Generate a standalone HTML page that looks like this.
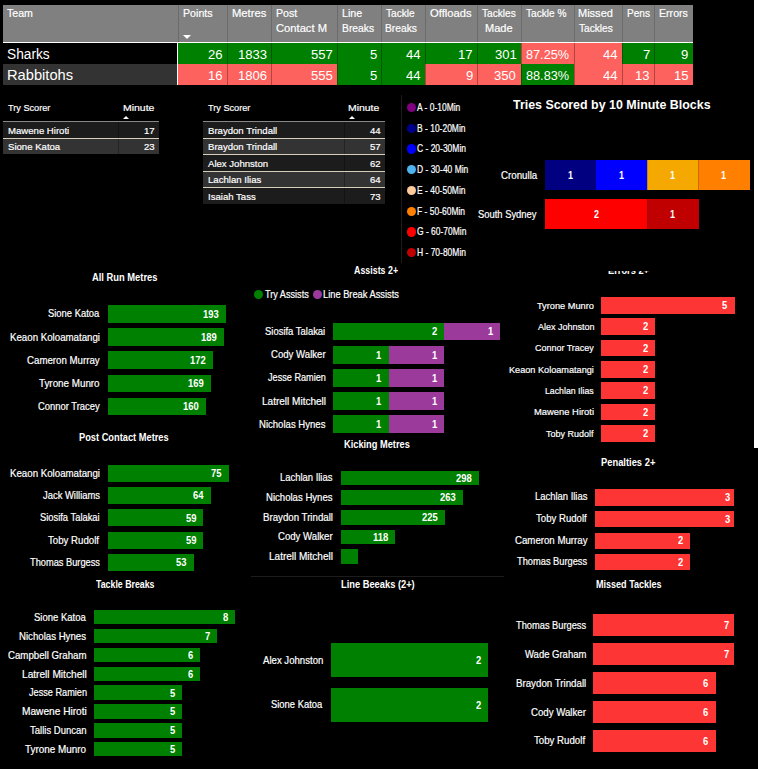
<!DOCTYPE html>
<html><head><meta charset="utf-8"><title>Match Stats</title>
<style>
html,body{margin:0;padding:0;background:#000;}
body{width:758px;height:769px;position:relative;overflow:hidden;font-family:"Liberation Sans", "DejaVu Sans", sans-serif;}
</style></head><body>
<div style="position:absolute;left:3.00px;top:5.00px;width:690.00px;height:37.00px;background:#808080;"></div>
<div style="position:absolute;left:3.00px;top:42.00px;width:690.00px;height:1.00px;background:#ffffff;"></div>
<div style="position:absolute;left:178.00px;top:5.00px;width:1.00px;height:37.00px;background:#6b6b6b;"></div>
<div style="position:absolute;left:227.00px;top:5.00px;width:1.00px;height:37.00px;background:#6b6b6b;"></div>
<div style="position:absolute;left:271.00px;top:5.00px;width:1.00px;height:37.00px;background:#6b6b6b;"></div>
<div style="position:absolute;left:337.00px;top:5.00px;width:1.00px;height:37.00px;background:#6b6b6b;"></div>
<div style="position:absolute;left:381.00px;top:5.00px;width:1.00px;height:37.00px;background:#6b6b6b;"></div>
<div style="position:absolute;left:425.00px;top:5.00px;width:1.00px;height:37.00px;background:#6b6b6b;"></div>
<div style="position:absolute;left:477.00px;top:5.00px;width:1.00px;height:37.00px;background:#6b6b6b;"></div>
<div style="position:absolute;left:521.00px;top:5.00px;width:1.00px;height:37.00px;background:#6b6b6b;"></div>
<div style="position:absolute;left:574.00px;top:5.00px;width:1.00px;height:37.00px;background:#6b6b6b;"></div>
<div style="position:absolute;left:622.00px;top:5.00px;width:1.00px;height:37.00px;background:#6b6b6b;"></div>
<div style="position:absolute;left:654.00px;top:5.00px;width:1.00px;height:37.00px;background:#6b6b6b;"></div>
<div style="position:absolute;left:6.97px;top:7px;font-size:11.48px;line-height:12px;-webkit-text-stroke:0.2px currentColor;color:#fff;white-space:nowrap;transform:scaleX(0.924);transform-origin:0 0;">Team</div>
<div style="position:absolute;left:182.72px;top:7px;font-size:11.48px;line-height:12px;-webkit-text-stroke:0.2px currentColor;color:#fff;white-space:nowrap;transform:scaleX(0.929);transform-origin:0 0;">Points</div>
<div style="position:absolute;left:231.68px;top:7px;font-size:11.48px;line-height:12px;-webkit-text-stroke:0.2px currentColor;color:#fff;white-space:nowrap;transform:scaleX(0.978);transform-origin:0 0;">Metres</div>
<div style="position:absolute;left:275.63px;top:7px;font-size:11.48px;line-height:12px;-webkit-text-stroke:0.2px currentColor;color:#fff;white-space:nowrap;transform:scaleX(0.925);transform-origin:0 0;">Post</div>
<div style="position:absolute;left:275.93px;top:22px;font-size:11.48px;line-height:12px;-webkit-text-stroke:0.2px currentColor;color:#fff;white-space:nowrap;transform:scaleX(0.976);transform-origin:0 0;">Contact M</div>
<div style="position:absolute;left:341.52px;top:7px;font-size:11.48px;line-height:12px;-webkit-text-stroke:0.2px currentColor;color:#fff;white-space:nowrap;transform:scaleX(0.933);transform-origin:0 0;">Line</div>
<div style="position:absolute;left:341.55px;top:22px;font-size:11.48px;line-height:12px;-webkit-text-stroke:0.2px currentColor;color:#fff;white-space:nowrap;transform:scaleX(0.899);transform-origin:0 0;">Breaks</div>
<div style="position:absolute;left:385.78px;top:7px;font-size:11.48px;line-height:12px;-webkit-text-stroke:0.2px currentColor;color:#fff;white-space:nowrap;transform:scaleX(0.884);transform-origin:0 0;">Tackle</div>
<div style="position:absolute;left:385.16px;top:22px;font-size:11.48px;line-height:12px;-webkit-text-stroke:0.2px currentColor;color:#fff;white-space:nowrap;transform:scaleX(0.896);transform-origin:0 0;">Breaks</div>
<div style="position:absolute;left:429.77px;top:7px;font-size:11.48px;line-height:12px;-webkit-text-stroke:0.2px currentColor;color:#fff;white-space:nowrap;transform:scaleX(0.978);transform-origin:0 0;">Offloads</div>
<div style="position:absolute;left:481.88px;top:7px;font-size:11.48px;line-height:12px;-webkit-text-stroke:0.2px currentColor;color:#fff;white-space:nowrap;transform:scaleX(0.883);transform-origin:0 0;">Tackles</div>
<div style="position:absolute;left:484.90px;top:22px;font-size:11.48px;line-height:12px;-webkit-text-stroke:0.2px currentColor;color:#fff;white-space:nowrap;transform:scaleX(0.961);transform-origin:0 0;">Made</div>
<div style="position:absolute;left:526.18px;top:7px;font-size:11.48px;line-height:12px;-webkit-text-stroke:0.2px currentColor;color:#fff;white-space:nowrap;transform:scaleX(0.881);transform-origin:0 0;">Tackle %</div>
<div style="position:absolute;left:577.90px;top:7px;font-size:11.48px;line-height:12px;-webkit-text-stroke:0.2px currentColor;color:#fff;white-space:nowrap;transform:scaleX(0.960);transform-origin:0 0;">Missed</div>
<div style="position:absolute;left:578.58px;top:22px;font-size:11.48px;line-height:12px;-webkit-text-stroke:0.2px currentColor;color:#fff;white-space:nowrap;transform:scaleX(0.885);transform-origin:0 0;">Tackles</div>
<div style="position:absolute;left:626.77px;top:7px;font-size:11.48px;line-height:12px;-webkit-text-stroke:0.2px currentColor;color:#fff;white-space:nowrap;transform:scaleX(0.879);transform-origin:0 0;">Pens</div>
<div style="position:absolute;left:658.53px;top:7px;font-size:11.48px;line-height:12px;-webkit-text-stroke:0.2px currentColor;color:#fff;white-space:nowrap;transform:scaleX(0.926);transform-origin:0 0;">Errors</div>
<div style="position:absolute;left:182.8px;top:35.2px;width:0;height:0;border-left:4px solid transparent;border-right:4px solid transparent;border-top:4px solid #fff;"></div>
<div style="position:absolute;left:3.00px;top:43.00px;width:174.00px;height:21.00px;background:#000;"></div>
<div style="position:absolute;left:178.00px;top:43.00px;width:49.00px;height:21.00px;background:#008000;"></div>
<div style="position:absolute;left:227.00px;top:43.00px;width:44.00px;height:21.00px;background:#008000;"></div>
<div style="position:absolute;left:271.00px;top:43.00px;width:66.00px;height:21.00px;background:#008000;"></div>
<div style="position:absolute;left:337.00px;top:43.00px;width:44.00px;height:21.00px;background:#008000;"></div>
<div style="position:absolute;left:381.00px;top:43.00px;width:44.00px;height:21.00px;background:#008000;"></div>
<div style="position:absolute;left:425.00px;top:43.00px;width:52.00px;height:21.00px;background:#008000;"></div>
<div style="position:absolute;left:477.00px;top:43.00px;width:44.00px;height:21.00px;background:#008000;"></div>
<div style="position:absolute;left:521.00px;top:43.00px;width:53.00px;height:21.00px;background:#fd625e;"></div>
<div style="position:absolute;left:574.00px;top:43.00px;width:48.00px;height:21.00px;background:#fd625e;"></div>
<div style="position:absolute;left:622.00px;top:43.00px;width:32.00px;height:21.00px;background:#008000;"></div>
<div style="position:absolute;left:654.00px;top:43.00px;width:39.00px;height:21.00px;background:#008000;"></div>
<div style="position:absolute;left:3.00px;top:64.00px;width:174.00px;height:21.00px;background:#333333;"></div>
<div style="position:absolute;left:178.00px;top:64.00px;width:49.00px;height:21.00px;background:#fd625e;"></div>
<div style="position:absolute;left:227.00px;top:64.00px;width:44.00px;height:21.00px;background:#fd625e;"></div>
<div style="position:absolute;left:271.00px;top:64.00px;width:66.00px;height:21.00px;background:#fd625e;"></div>
<div style="position:absolute;left:337.00px;top:64.00px;width:44.00px;height:21.00px;background:#008000;"></div>
<div style="position:absolute;left:381.00px;top:64.00px;width:44.00px;height:21.00px;background:#008000;"></div>
<div style="position:absolute;left:425.00px;top:64.00px;width:52.00px;height:21.00px;background:#fd625e;"></div>
<div style="position:absolute;left:477.00px;top:64.00px;width:44.00px;height:21.00px;background:#fd625e;"></div>
<div style="position:absolute;left:521.00px;top:64.00px;width:53.00px;height:21.00px;background:#008000;"></div>
<div style="position:absolute;left:574.00px;top:64.00px;width:48.00px;height:21.00px;background:#fd625e;"></div>
<div style="position:absolute;left:622.00px;top:64.00px;width:32.00px;height:21.00px;background:#fd625e;"></div>
<div style="position:absolute;left:654.00px;top:64.00px;width:39.00px;height:21.00px;background:#fd625e;"></div>
<div style="position:absolute;left:177.00px;top:43.00px;width:1.00px;height:42.00px;background:#ffffff;"></div>
<div style="position:absolute;left:227.00px;top:43.00px;width:1.00px;height:42.00px;background:rgba(0,0,0,0.3);"></div>
<div style="position:absolute;left:271.00px;top:43.00px;width:1.00px;height:42.00px;background:rgba(0,0,0,0.3);"></div>
<div style="position:absolute;left:337.00px;top:43.00px;width:1.00px;height:42.00px;background:rgba(0,0,0,0.3);"></div>
<div style="position:absolute;left:381.00px;top:43.00px;width:1.00px;height:42.00px;background:rgba(0,0,0,0.3);"></div>
<div style="position:absolute;left:425.00px;top:43.00px;width:1.00px;height:42.00px;background:rgba(0,0,0,0.3);"></div>
<div style="position:absolute;left:477.00px;top:43.00px;width:1.00px;height:42.00px;background:rgba(0,0,0,0.3);"></div>
<div style="position:absolute;left:521.00px;top:43.00px;width:1.00px;height:42.00px;background:rgba(0,0,0,0.3);"></div>
<div style="position:absolute;left:574.00px;top:43.00px;width:1.00px;height:42.00px;background:rgba(0,0,0,0.3);"></div>
<div style="position:absolute;left:622.00px;top:43.00px;width:1.00px;height:42.00px;background:rgba(0,0,0,0.3);"></div>
<div style="position:absolute;left:654.00px;top:43.00px;width:1.00px;height:42.00px;background:rgba(0,0,0,0.3);"></div>
<div style="position:absolute;left:6.97px;top:46px;font-size:14.83px;line-height:16px;color:#fff;white-space:nowrap;transform:scaleX(0.924);transform-origin:0 0;">Sharks</div>
<div style="position:absolute;left:6.70px;top:66px;font-size:15.12px;line-height:17px;color:#fff;white-space:nowrap;transform:scaleX(0.972);transform-origin:0 0;">Rabbitohs</div>
<div style="position:absolute;left:208.00px;top:47px;font-size:13.37px;line-height:15px;color:#fff;white-space:nowrap;transform:scaleX(0.980);transform-origin:0 0;">26</div>
<div style="position:absolute;left:237.73px;top:47px;font-size:13.37px;line-height:15px;color:#fff;white-space:nowrap;transform:scaleX(0.980);transform-origin:0 0;">1833</div>
<div style="position:absolute;left:310.80px;top:47px;font-size:13.37px;line-height:15px;color:#fff;white-space:nowrap;transform:scaleX(0.980);transform-origin:0 0;">557</div>
<div style="position:absolute;left:369.56px;top:47px;font-size:13.37px;line-height:15px;color:#fff;white-space:nowrap;transform:scaleX(0.980);transform-origin:0 0;">5</div>
<div style="position:absolute;left:405.81px;top:47px;font-size:13.37px;line-height:15px;color:#fff;white-space:nowrap;transform:scaleX(0.980);transform-origin:0 0;">44</div>
<div style="position:absolute;left:458.28px;top:47px;font-size:13.37px;line-height:15px;color:#fff;white-space:nowrap;transform:scaleX(0.980);transform-origin:0 0;">17</div>
<div style="position:absolute;left:494.58px;top:47px;font-size:13.37px;line-height:15px;color:#fff;white-space:nowrap;transform:scaleX(0.980);transform-origin:0 0;">301</div>
<div style="position:absolute;left:525.85px;top:47px;font-size:13.37px;line-height:15px;color:#fff;white-space:nowrap;transform:scaleX(0.950);transform-origin:0 0;">87.25%</div>
<div style="position:absolute;left:602.81px;top:47px;font-size:13.37px;line-height:15px;color:#fff;white-space:nowrap;transform:scaleX(0.980);transform-origin:0 0;">44</div>
<div style="position:absolute;left:642.67px;top:47px;font-size:13.37px;line-height:15px;color:#fff;white-space:nowrap;transform:scaleX(0.980);transform-origin:0 0;">7</div>
<div style="position:absolute;left:680.93px;top:47px;font-size:13.37px;line-height:15px;color:#fff;white-space:nowrap;transform:scaleX(0.980);transform-origin:0 0;">9</div>
<div style="position:absolute;left:208.00px;top:68px;font-size:13.37px;line-height:15px;color:#fff;white-space:nowrap;transform:scaleX(0.980);transform-origin:0 0;">16</div>
<div style="position:absolute;left:237.73px;top:68px;font-size:13.37px;line-height:15px;color:#fff;white-space:nowrap;transform:scaleX(0.980);transform-origin:0 0;">1806</div>
<div style="position:absolute;left:310.69px;top:68px;font-size:13.37px;line-height:15px;color:#fff;white-space:nowrap;transform:scaleX(0.980);transform-origin:0 0;">555</div>
<div style="position:absolute;left:369.56px;top:68px;font-size:13.37px;line-height:15px;color:#fff;white-space:nowrap;transform:scaleX(0.980);transform-origin:0 0;">5</div>
<div style="position:absolute;left:405.81px;top:68px;font-size:13.37px;line-height:15px;color:#fff;white-space:nowrap;transform:scaleX(0.980);transform-origin:0 0;">44</div>
<div style="position:absolute;left:465.53px;top:68px;font-size:13.37px;line-height:15px;color:#fff;white-space:nowrap;transform:scaleX(0.980);transform-origin:0 0;">9</div>
<div style="position:absolute;left:494.45px;top:68px;font-size:13.37px;line-height:15px;color:#fff;white-space:nowrap;transform:scaleX(0.980);transform-origin:0 0;">350</div>
<div style="position:absolute;left:525.85px;top:68px;font-size:13.37px;line-height:15px;color:#fff;white-space:nowrap;transform:scaleX(0.950);transform-origin:0 0;">88.83%</div>
<div style="position:absolute;left:602.81px;top:68px;font-size:13.37px;line-height:15px;color:#fff;white-space:nowrap;transform:scaleX(0.980);transform-origin:0 0;">44</div>
<div style="position:absolute;left:635.30px;top:68px;font-size:13.37px;line-height:15px;color:#fff;white-space:nowrap;transform:scaleX(0.980);transform-origin:0 0;">13</div>
<div style="position:absolute;left:673.58px;top:68px;font-size:13.37px;line-height:15px;color:#fff;white-space:nowrap;transform:scaleX(0.980);transform-origin:0 0;">15</div>
<div style="position:absolute;left:8.10px;top:102px;font-size:9.88px;line-height:11px;-webkit-text-stroke:0.2px currentColor;color:#fff;white-space:nowrap;transform:scaleX(0.926);transform-origin:0 0;">Try Scorer</div>
<div style="position:absolute;left:122.64px;top:102px;font-size:9.88px;line-height:11px;-webkit-text-stroke:0.2px currentColor;color:#fff;white-space:nowrap;transform:scaleX(1.059);transform-origin:0 0;">Minute</div>
<div style="position:absolute;left:123.1px;top:115.6px;width:0;height:0;border-left:3.7px solid transparent;border-right:3.7px solid transparent;border-bottom:3.9px solid #fff;"></div>
<div style="position:absolute;left:3.20px;top:121.00px;width:155.80px;height:1.00px;background:#888888;"></div>
<div style="position:absolute;left:3.20px;top:122.00px;width:155.80px;height:15.50px;background:#1c1c1c;"></div>
<div style="position:absolute;left:118.00px;top:122.00px;width:1.00px;height:15.50px;background:rgba(0,0,0,0.3);"></div>
<div style="position:absolute;left:7.51px;top:125px;font-size:9.88px;line-height:11px;-webkit-text-stroke:0.2px currentColor;color:#fff;white-space:nowrap;transform:scaleX(0.970);transform-origin:0 0;">Mawene Hiroti</div>
<div style="position:absolute;left:144.02px;top:125px;font-size:9.88px;line-height:11px;-webkit-text-stroke:0.2px currentColor;color:#fff;white-space:nowrap;transform:scaleX(0.970);transform-origin:0 0;">17</div>
<div style="position:absolute;left:3.20px;top:137.50px;width:155.80px;height:1.00px;background:#d6cdbb;"></div>
<div style="position:absolute;left:3.20px;top:138.50px;width:155.80px;height:15.50px;background:#333333;"></div>
<div style="position:absolute;left:118.00px;top:138.50px;width:1.00px;height:15.50px;background:rgba(0,0,0,0.3);"></div>
<div style="position:absolute;left:7.86px;top:141px;font-size:9.88px;line-height:11px;-webkit-text-stroke:0.2px currentColor;color:#fff;white-space:nowrap;transform:scaleX(0.970);transform-origin:0 0;">Sione Katoa</div>
<div style="position:absolute;left:143.96px;top:141px;font-size:9.88px;line-height:11px;-webkit-text-stroke:0.2px currentColor;color:#fff;white-space:nowrap;transform:scaleX(0.970);transform-origin:0 0;">23</div>
<div style="position:absolute;left:208.20px;top:102px;font-size:9.88px;line-height:11px;-webkit-text-stroke:0.2px currentColor;color:#fff;white-space:nowrap;transform:scaleX(0.926);transform-origin:0 0;">Try Scorer</div>
<div style="position:absolute;left:348.04px;top:102px;font-size:9.88px;line-height:11px;-webkit-text-stroke:0.2px currentColor;color:#fff;white-space:nowrap;transform:scaleX(1.056);transform-origin:0 0;">Minute</div>
<div style="position:absolute;left:348.5px;top:115.6px;width:0;height:0;border-left:3.7px solid transparent;border-right:3.7px solid transparent;border-bottom:3.9px solid #fff;"></div>
<div style="position:absolute;left:203.30px;top:121.00px;width:181.60px;height:1.00px;background:#888888;"></div>
<div style="position:absolute;left:203.30px;top:122.00px;width:181.60px;height:15.50px;background:#1c1c1c;"></div>
<div style="position:absolute;left:344.30px;top:122.00px;width:1.00px;height:15.50px;background:rgba(0,0,0,0.3);"></div>
<div style="position:absolute;left:207.61px;top:125px;font-size:9.88px;line-height:11px;-webkit-text-stroke:0.2px currentColor;color:#fff;white-space:nowrap;transform:scaleX(0.970);transform-origin:0 0;">Braydon Trindall</div>
<div style="position:absolute;left:369.72px;top:125px;font-size:9.88px;line-height:11px;-webkit-text-stroke:0.2px currentColor;color:#fff;white-space:nowrap;transform:scaleX(0.970);transform-origin:0 0;">44</div>
<div style="position:absolute;left:203.30px;top:137.50px;width:181.60px;height:1.00px;background:#d6cdbb;"></div>
<div style="position:absolute;left:203.30px;top:138.50px;width:181.60px;height:15.50px;background:#333333;"></div>
<div style="position:absolute;left:344.30px;top:138.50px;width:1.00px;height:15.50px;background:rgba(0,0,0,0.3);"></div>
<div style="position:absolute;left:207.61px;top:141px;font-size:9.88px;line-height:11px;-webkit-text-stroke:0.2px currentColor;color:#fff;white-space:nowrap;transform:scaleX(0.970);transform-origin:0 0;">Braydon Trindall</div>
<div style="position:absolute;left:369.92px;top:141px;font-size:9.88px;line-height:11px;-webkit-text-stroke:0.2px currentColor;color:#fff;white-space:nowrap;transform:scaleX(0.970);transform-origin:0 0;">57</div>
<div style="position:absolute;left:203.30px;top:154.00px;width:181.60px;height:1.00px;background:#d6cdbb;"></div>
<div style="position:absolute;left:203.30px;top:155.00px;width:181.60px;height:15.50px;background:#1c1c1c;"></div>
<div style="position:absolute;left:344.30px;top:155.00px;width:1.00px;height:15.50px;background:rgba(0,0,0,0.3);"></div>
<div style="position:absolute;left:208.38px;top:158px;font-size:9.88px;line-height:11px;-webkit-text-stroke:0.2px currentColor;color:#fff;white-space:nowrap;transform:scaleX(0.970);transform-origin:0 0;">Alex Johnston</div>
<div style="position:absolute;left:369.92px;top:158px;font-size:9.88px;line-height:11px;-webkit-text-stroke:0.2px currentColor;color:#fff;white-space:nowrap;transform:scaleX(0.970);transform-origin:0 0;">62</div>
<div style="position:absolute;left:203.30px;top:170.50px;width:181.60px;height:1.00px;background:#d6cdbb;"></div>
<div style="position:absolute;left:203.30px;top:171.50px;width:181.60px;height:15.50px;background:#333333;"></div>
<div style="position:absolute;left:344.30px;top:171.50px;width:1.00px;height:15.50px;background:rgba(0,0,0,0.3);"></div>
<div style="position:absolute;left:207.61px;top:174px;font-size:9.88px;line-height:11px;-webkit-text-stroke:0.2px currentColor;color:#fff;white-space:nowrap;transform:scaleX(0.970);transform-origin:0 0;">Lachlan Ilias</div>
<div style="position:absolute;left:369.72px;top:174px;font-size:9.88px;line-height:11px;-webkit-text-stroke:0.2px currentColor;color:#fff;white-space:nowrap;transform:scaleX(0.970);transform-origin:0 0;">64</div>
<div style="position:absolute;left:203.30px;top:187.00px;width:181.60px;height:1.00px;background:#d6cdbb;"></div>
<div style="position:absolute;left:203.30px;top:188.00px;width:181.60px;height:15.50px;background:#1c1c1c;"></div>
<div style="position:absolute;left:344.30px;top:188.00px;width:1.00px;height:15.50px;background:rgba(0,0,0,0.3);"></div>
<div style="position:absolute;left:207.52px;top:191px;font-size:9.88px;line-height:11px;-webkit-text-stroke:0.2px currentColor;color:#fff;white-space:nowrap;transform:scaleX(0.970);transform-origin:0 0;">Isaiah Tass</div>
<div style="position:absolute;left:369.86px;top:191px;font-size:9.88px;line-height:11px;-webkit-text-stroke:0.2px currentColor;color:#fff;white-space:nowrap;transform:scaleX(0.970);transform-origin:0 0;">73</div>
<div style="position:absolute;left:401.00px;top:95.00px;width:1.00px;height:168.00px;background:#1c1c1c;"></div>
<div style="position:absolute;left:406.95px;top:102.95px;width:9.30px;height:9.30px;border-radius:50%;background:#800080"></div>
<div style="position:absolute;left:417.48px;top:102px;font-size:10.03px;line-height:11px;-webkit-text-stroke:0.2px currentColor;color:#fff;white-space:nowrap;transform:scaleX(0.846);transform-origin:0 0;">A - 0-10Min</div>
<div style="position:absolute;left:406.95px;top:123.67px;width:9.30px;height:9.30px;border-radius:50%;background:#00008b"></div>
<div style="position:absolute;left:416.80px;top:123px;font-size:10.03px;line-height:11px;-webkit-text-stroke:0.2px currentColor;color:#fff;white-space:nowrap;transform:scaleX(0.846);transform-origin:0 0;">B - 10-20Min</div>
<div style="position:absolute;left:406.95px;top:144.39px;width:9.30px;height:9.30px;border-radius:50%;background:#0000ff"></div>
<div style="position:absolute;left:417.07px;top:143px;font-size:10.03px;line-height:11px;-webkit-text-stroke:0.2px currentColor;color:#fff;white-space:nowrap;transform:scaleX(0.846);transform-origin:0 0;">C - 20-30Min</div>
<div style="position:absolute;left:406.95px;top:165.11px;width:9.30px;height:9.30px;border-radius:50%;background:#4fb3f0"></div>
<div style="position:absolute;left:416.80px;top:164px;font-size:10.03px;line-height:11px;-webkit-text-stroke:0.2px currentColor;color:#fff;white-space:nowrap;transform:scaleX(0.846);transform-origin:0 0;">D - 30-40 Min</div>
<div style="position:absolute;left:406.95px;top:185.83px;width:9.30px;height:9.30px;border-radius:50%;background:#ffcc99"></div>
<div style="position:absolute;left:416.80px;top:185px;font-size:10.03px;line-height:11px;-webkit-text-stroke:0.2px currentColor;color:#fff;white-space:nowrap;transform:scaleX(0.846);transform-origin:0 0;">E - 40-50Min</div>
<div style="position:absolute;left:406.95px;top:206.55px;width:9.30px;height:9.30px;border-radius:50%;background:#ff8000"></div>
<div style="position:absolute;left:416.80px;top:206px;font-size:10.03px;line-height:11px;-webkit-text-stroke:0.2px currentColor;color:#fff;white-space:nowrap;transform:scaleX(0.846);transform-origin:0 0;">F - 50-60Min</div>
<div style="position:absolute;left:406.95px;top:227.27px;width:9.30px;height:9.30px;border-radius:50%;background:#ff0000"></div>
<div style="position:absolute;left:417.08px;top:226px;font-size:10.03px;line-height:11px;-webkit-text-stroke:0.2px currentColor;color:#fff;white-space:nowrap;transform:scaleX(0.846);transform-origin:0 0;">G - 60-70Min</div>
<div style="position:absolute;left:406.95px;top:247.99px;width:9.30px;height:9.30px;border-radius:50%;background:#c00000"></div>
<div style="position:absolute;left:416.80px;top:247px;font-size:10.03px;line-height:11px;-webkit-text-stroke:0.2px currentColor;color:#fff;white-space:nowrap;transform:scaleX(0.846);transform-origin:0 0;">H - 70-80Min</div>
<div style="position:absolute;left:512.66px;top:98px;font-size:12.06px;line-height:14px;font-weight:bold;color:#fff;white-space:nowrap;transform:scaleX(1.032);transform-origin:0 0;">Tries Scored by 10 Minute Blocks</div>
<div style="position:absolute;left:500.60px;top:170px;font-size:10.32px;line-height:11px;-webkit-text-stroke:0.2px currentColor;color:#fff;white-space:nowrap;transform:scaleX(0.944);transform-origin:0 0;">Cronulla</div>
<div style="position:absolute;left:477.97px;top:209px;font-size:10.32px;line-height:11px;-webkit-text-stroke:0.2px currentColor;color:#fff;white-space:nowrap;transform:scaleX(0.911);transform-origin:0 0;">South Sydney</div>
<div style="position:absolute;left:544.90px;top:159.70px;width:51.00px;height:30.20px;background:#000080;"></div>
<div style="position:absolute;left:595.90px;top:159.70px;width:51.20px;height:30.20px;background:#0000ff;"></div>
<div style="position:absolute;left:647.10px;top:159.70px;width:51.10px;height:30.20px;background:#f5a800;"></div>
<div style="position:absolute;left:698.20px;top:159.70px;width:51.50px;height:30.20px;background:#ff8000;"></div>
<div style="position:absolute;left:646.60px;top:159.70px;width:1.00px;height:30.20px;background:rgba(0,0,0,0.18);"></div>
<div style="position:absolute;left:697.70px;top:159.70px;width:1.00px;height:30.20px;background:rgba(0,0,0,0.18);"></div>
<div style="position:absolute;left:567.73px;top:170px;font-size:10.03px;line-height:11px;font-weight:bold;color:#fff;white-space:nowrap;transform:scaleX(0.900);transform-origin:0 0;">1</div>
<div style="position:absolute;left:618.83px;top:170px;font-size:10.03px;line-height:11px;font-weight:bold;color:#fff;white-space:nowrap;transform:scaleX(0.900);transform-origin:0 0;">1</div>
<div style="position:absolute;left:669.98px;top:170px;font-size:10.03px;line-height:11px;font-weight:bold;color:#fff;white-space:nowrap;transform:scaleX(0.900);transform-origin:0 0;">1</div>
<div style="position:absolute;left:721.28px;top:170px;font-size:10.03px;line-height:11px;font-weight:bold;color:#fff;white-space:nowrap;transform:scaleX(0.900);transform-origin:0 0;">1</div>
<div style="position:absolute;left:544.90px;top:199.20px;width:102.20px;height:30.20px;background:#ff0000;"></div>
<div style="position:absolute;left:647.10px;top:199.20px;width:51.50px;height:30.20px;background:#c00000;"></div>
<div style="position:absolute;left:646.60px;top:199.20px;width:1.00px;height:30.20px;background:rgba(0,0,0,0.15);"></div>
<div style="position:absolute;left:593.51px;top:209px;font-size:10.03px;line-height:11px;font-weight:bold;color:#fff;white-space:nowrap;transform:scaleX(0.900);transform-origin:0 0;">2</div>
<div style="position:absolute;left:670.18px;top:209px;font-size:10.03px;line-height:11px;font-weight:bold;color:#fff;white-space:nowrap;transform:scaleX(0.900);transform-origin:0 0;">1</div>
<div style="position:absolute;left:91.97px;top:272px;font-size:10.03px;line-height:11px;font-weight:bold;color:#fff;white-space:nowrap;transform:scaleX(0.933);transform-origin:0 0;">All Run Metres</div>
<div style="position:absolute;left:107.80px;top:305.00px;width:118.20px;height:17.80px;background:#008000;"></div>
<div style="position:absolute;left:48.27px;top:308px;font-size:10.32px;line-height:11px;-webkit-text-stroke:0.2px currentColor;color:#fff;white-space:nowrap;transform:scaleX(0.911);transform-origin:0 0;">Sione Katoa</div>
<div style="position:absolute;left:203.31px;top:309px;font-size:10.03px;line-height:11px;font-weight:bold;color:#fff;white-space:nowrap;transform:scaleX(0.940);transform-origin:0 0;">193</div>
<div style="position:absolute;left:107.80px;top:328.30px;width:115.80px;height:17.50px;background:#008000;"></div>
<div style="position:absolute;left:10.10px;top:332px;font-size:10.32px;line-height:11px;-webkit-text-stroke:0.2px currentColor;color:#fff;white-space:nowrap;transform:scaleX(0.940);transform-origin:0 0;">Keaon Koloamatangi</div>
<div style="position:absolute;left:200.92px;top:332px;font-size:10.03px;line-height:11px;font-weight:bold;color:#fff;white-space:nowrap;transform:scaleX(0.940);transform-origin:0 0;">189</div>
<div style="position:absolute;left:107.80px;top:351.40px;width:105.20px;height:17.40px;background:#008000;"></div>
<div style="position:absolute;left:26.81px;top:355px;font-size:10.32px;line-height:11px;-webkit-text-stroke:0.2px currentColor;color:#fff;white-space:nowrap;transform:scaleX(0.939);transform-origin:0 0;">Cameron Murray</div>
<div style="position:absolute;left:190.35px;top:355px;font-size:10.03px;line-height:11px;font-weight:bold;color:#fff;white-space:nowrap;transform:scaleX(0.940);transform-origin:0 0;">172</div>
<div style="position:absolute;left:107.80px;top:374.80px;width:103.20px;height:17.10px;background:#008000;"></div>
<div style="position:absolute;left:39.28px;top:378px;font-size:10.32px;line-height:11px;-webkit-text-stroke:0.2px currentColor;color:#fff;white-space:nowrap;transform:scaleX(0.952);transform-origin:0 0;">Tyrone Munro</div>
<div style="position:absolute;left:188.32px;top:378px;font-size:10.03px;line-height:11px;font-weight:bold;color:#fff;white-space:nowrap;transform:scaleX(0.940);transform-origin:0 0;">169</div>
<div style="position:absolute;left:107.80px;top:397.90px;width:98.00px;height:17.10px;background:#008000;"></div>
<div style="position:absolute;left:37.72px;top:401px;font-size:10.32px;line-height:11px;-webkit-text-stroke:0.2px currentColor;color:#fff;white-space:nowrap;transform:scaleX(0.913);transform-origin:0 0;">Connor Tracey</div>
<div style="position:absolute;left:183.16px;top:401px;font-size:10.03px;line-height:11px;font-weight:bold;color:#fff;white-space:nowrap;transform:scaleX(0.940);transform-origin:0 0;">160</div>
<div style="position:absolute;left:79.48px;top:432px;font-size:10.03px;line-height:11px;font-weight:bold;color:#fff;white-space:nowrap;transform:scaleX(0.926);transform-origin:0 0;">Post Contact Metres</div>
<div style="position:absolute;left:107.80px;top:464.50px;width:121.40px;height:17.20px;background:#008000;"></div>
<div style="position:absolute;left:10.10px;top:468px;font-size:10.32px;line-height:11px;-webkit-text-stroke:0.2px currentColor;color:#fff;white-space:nowrap;transform:scaleX(0.940);transform-origin:0 0;">Keaon Koloamatangi</div>
<div style="position:absolute;left:211.38px;top:468px;font-size:10.03px;line-height:11px;font-weight:bold;color:#fff;white-space:nowrap;transform:scaleX(0.940);transform-origin:0 0;">75</div>
<div style="position:absolute;left:107.80px;top:487.30px;width:103.60px;height:16.50px;background:#008000;"></div>
<div style="position:absolute;left:42.75px;top:490px;font-size:10.32px;line-height:11px;-webkit-text-stroke:0.2px currentColor;color:#fff;white-space:nowrap;transform:scaleX(0.913);transform-origin:0 0;">Jack Williams</div>
<div style="position:absolute;left:193.36px;top:490px;font-size:10.03px;line-height:11px;font-weight:bold;color:#fff;white-space:nowrap;transform:scaleX(0.940);transform-origin:0 0;">64</div>
<div style="position:absolute;left:107.80px;top:509.40px;width:95.70px;height:16.80px;background:#008000;"></div>
<div style="position:absolute;left:40.47px;top:512px;font-size:10.32px;line-height:11px;-webkit-text-stroke:0.2px currentColor;color:#fff;white-space:nowrap;transform:scaleX(0.907);transform-origin:0 0;">Siosifa Talakai</div>
<div style="position:absolute;left:185.77px;top:513px;font-size:10.03px;line-height:11px;font-weight:bold;color:#fff;white-space:nowrap;transform:scaleX(0.940);transform-origin:0 0;">59</div>
<div style="position:absolute;left:107.80px;top:531.80px;width:95.70px;height:16.80px;background:#008000;"></div>
<div style="position:absolute;left:48.49px;top:535px;font-size:10.32px;line-height:11px;-webkit-text-stroke:0.2px currentColor;color:#fff;white-space:nowrap;transform:scaleX(0.936);transform-origin:0 0;">Toby Rudolf</div>
<div style="position:absolute;left:185.77px;top:535px;font-size:10.03px;line-height:11px;font-weight:bold;color:#fff;white-space:nowrap;transform:scaleX(0.940);transform-origin:0 0;">59</div>
<div style="position:absolute;left:107.80px;top:553.90px;width:85.80px;height:16.80px;background:#008000;"></div>
<div style="position:absolute;left:29.80px;top:557px;font-size:10.32px;line-height:11px;-webkit-text-stroke:0.2px currentColor;color:#fff;white-space:nowrap;transform:scaleX(0.898);transform-origin:0 0;">Thomas Burgess</div>
<div style="position:absolute;left:175.86px;top:557px;font-size:10.03px;line-height:11px;font-weight:bold;color:#fff;white-space:nowrap;transform:scaleX(0.940);transform-origin:0 0;">53</div>
<div style="position:absolute;left:95.50px;top:579px;font-size:10.03px;line-height:11px;font-weight:bold;color:#fff;white-space:nowrap;transform:scaleX(0.878);transform-origin:0 0;">Tackle Breaks</div>
<div style="position:absolute;left:94.00px;top:610.20px;width:140.80px;height:14.20px;background:#008000;"></div>
<div style="position:absolute;left:34.26px;top:612px;font-size:10.32px;line-height:11px;-webkit-text-stroke:0.2px currentColor;color:#fff;white-space:nowrap;transform:scaleX(0.922);transform-origin:0 0;">Sione Katoa</div>
<div style="position:absolute;left:222.55px;top:612px;font-size:10.03px;line-height:11px;font-weight:bold;color:#fff;white-space:nowrap;transform:scaleX(0.940);transform-origin:0 0;">8</div>
<div style="position:absolute;left:94.00px;top:629.40px;width:123.30px;height:13.80px;background:#008000;"></div>
<div style="position:absolute;left:19.41px;top:631px;font-size:10.32px;line-height:11px;-webkit-text-stroke:0.2px currentColor;color:#fff;white-space:nowrap;transform:scaleX(0.935);transform-origin:0 0;">Nicholas Hynes</div>
<div style="position:absolute;left:205.17px;top:631px;font-size:10.03px;line-height:11px;font-weight:bold;color:#fff;white-space:nowrap;transform:scaleX(0.940);transform-origin:0 0;">7</div>
<div style="position:absolute;left:94.00px;top:648.20px;width:105.90px;height:14.10px;background:#008000;"></div>
<div style="position:absolute;left:8.21px;top:650px;font-size:10.32px;line-height:11px;-webkit-text-stroke:0.2px currentColor;color:#fff;white-space:nowrap;transform:scaleX(0.938);transform-origin:0 0;">Campbell Graham</div>
<div style="position:absolute;left:187.70px;top:650px;font-size:10.03px;line-height:11px;font-weight:bold;color:#fff;white-space:nowrap;transform:scaleX(0.940);transform-origin:0 0;">6</div>
<div style="position:absolute;left:94.00px;top:667.00px;width:105.90px;height:14.10px;background:#008000;"></div>
<div style="position:absolute;left:21.97px;top:669px;font-size:10.32px;line-height:11px;-webkit-text-stroke:0.2px currentColor;color:#fff;white-space:nowrap;transform:scaleX(0.983);transform-origin:0 0;">Latrell Mitchell</div>
<div style="position:absolute;left:187.70px;top:669px;font-size:10.03px;line-height:11px;font-weight:bold;color:#fff;white-space:nowrap;transform:scaleX(0.940);transform-origin:0 0;">6</div>
<div style="position:absolute;left:94.00px;top:685.40px;width:88.00px;height:14.60px;background:#008000;"></div>
<div style="position:absolute;left:28.65px;top:687px;font-size:10.32px;line-height:11px;-webkit-text-stroke:0.2px currentColor;color:#fff;white-space:nowrap;transform:scaleX(0.888);transform-origin:0 0;">Jesse Ramien</div>
<div style="position:absolute;left:169.72px;top:688px;font-size:10.03px;line-height:11px;font-weight:bold;color:#fff;white-space:nowrap;transform:scaleX(0.940);transform-origin:0 0;">5</div>
<div style="position:absolute;left:94.00px;top:704.20px;width:88.00px;height:14.50px;background:#008000;"></div>
<div style="position:absolute;left:21.97px;top:706px;font-size:10.32px;line-height:11px;-webkit-text-stroke:0.2px currentColor;color:#fff;white-space:nowrap;transform:scaleX(0.983);transform-origin:0 0;">Mawene Hiroti</div>
<div style="position:absolute;left:169.72px;top:706px;font-size:10.03px;line-height:11px;font-weight:bold;color:#fff;white-space:nowrap;transform:scaleX(0.940);transform-origin:0 0;">5</div>
<div style="position:absolute;left:94.00px;top:723.00px;width:88.00px;height:14.50px;background:#008000;"></div>
<div style="position:absolute;left:30.09px;top:725px;font-size:10.32px;line-height:11px;-webkit-text-stroke:0.2px currentColor;color:#fff;white-space:nowrap;transform:scaleX(0.923);transform-origin:0 0;">Tallis Duncan</div>
<div style="position:absolute;left:169.72px;top:725px;font-size:10.03px;line-height:11px;font-weight:bold;color:#fff;white-space:nowrap;transform:scaleX(0.940);transform-origin:0 0;">5</div>
<div style="position:absolute;left:94.00px;top:741.80px;width:88.00px;height:14.50px;background:#008000;"></div>
<div style="position:absolute;left:25.38px;top:744px;font-size:10.32px;line-height:11px;-webkit-text-stroke:0.2px currentColor;color:#fff;white-space:nowrap;transform:scaleX(0.960);transform-origin:0 0;">Tyrone Munro</div>
<div style="position:absolute;left:169.72px;top:744px;font-size:10.03px;line-height:11px;font-weight:bold;color:#fff;white-space:nowrap;transform:scaleX(0.940);transform-origin:0 0;">5</div>
<div style="position:absolute;left:354.38px;top:265px;font-size:10.03px;line-height:11px;font-weight:bold;color:#fff;white-space:nowrap;transform:scaleX(0.885);transform-origin:0 0;">Assists 2+</div>
<div style="position:absolute;left:253.90px;top:290.10px;width:9.20px;height:9.20px;border-radius:50%;background:#008000"></div>
<div style="position:absolute;left:264.60px;top:289px;font-size:10.32px;line-height:11px;-webkit-text-stroke:0.2px currentColor;color:#fff;white-space:nowrap;transform:scaleX(0.884);transform-origin:0 0;">Try Assists</div>
<div style="position:absolute;left:312.60px;top:290.10px;width:9.20px;height:9.20px;border-radius:50%;background:#9c3a9c"></div>
<div style="position:absolute;left:323.14px;top:289px;font-size:10.32px;line-height:11px;-webkit-text-stroke:0.2px currentColor;color:#fff;white-space:nowrap;transform:scaleX(0.901);transform-origin:0 0;">Line Break Assists</div>
<div style="position:absolute;left:333.00px;top:322.80px;width:111.20px;height:17.50px;background:#008000;"></div>
<div style="position:absolute;left:444.20px;top:322.80px;width:55.60px;height:17.50px;background:#9c3a9c;"></div>
<div style="position:absolute;left:265.47px;top:326px;font-size:10.32px;line-height:11px;-webkit-text-stroke:0.2px currentColor;color:#fff;white-space:nowrap;transform:scaleX(0.916);transform-origin:0 0;">Siosifa Talakai</div>
<div style="position:absolute;left:432.14px;top:326px;font-size:10.03px;line-height:11px;font-weight:bold;color:#fff;white-space:nowrap;transform:scaleX(0.940);transform-origin:0 0;">2</div>
<div style="position:absolute;left:487.62px;top:326px;font-size:10.03px;line-height:11px;font-weight:bold;color:#fff;white-space:nowrap;transform:scaleX(0.940);transform-origin:0 0;">1</div>
<div style="position:absolute;left:333.00px;top:345.80px;width:55.60px;height:17.80px;background:#008000;"></div>
<div style="position:absolute;left:388.60px;top:345.80px;width:55.60px;height:17.80px;background:#9c3a9c;"></div>
<div style="position:absolute;left:270.61px;top:349px;font-size:10.32px;line-height:11px;-webkit-text-stroke:0.2px currentColor;color:#fff;white-space:nowrap;transform:scaleX(0.931);transform-origin:0 0;">Cody Walker</div>
<div style="position:absolute;left:376.42px;top:350px;font-size:10.03px;line-height:11px;font-weight:bold;color:#fff;white-space:nowrap;transform:scaleX(0.940);transform-origin:0 0;">1</div>
<div style="position:absolute;left:432.02px;top:350px;font-size:10.03px;line-height:11px;font-weight:bold;color:#fff;white-space:nowrap;transform:scaleX(0.940);transform-origin:0 0;">1</div>
<div style="position:absolute;left:333.00px;top:369.10px;width:55.60px;height:17.50px;background:#008000;"></div>
<div style="position:absolute;left:388.60px;top:369.10px;width:55.60px;height:17.50px;background:#9c3a9c;"></div>
<div style="position:absolute;left:267.75px;top:372px;font-size:10.32px;line-height:11px;-webkit-text-stroke:0.2px currentColor;color:#fff;white-space:nowrap;transform:scaleX(0.886);transform-origin:0 0;">Jesse Ramien</div>
<div style="position:absolute;left:376.42px;top:373px;font-size:10.03px;line-height:11px;font-weight:bold;color:#fff;white-space:nowrap;transform:scaleX(0.940);transform-origin:0 0;">1</div>
<div style="position:absolute;left:432.02px;top:373px;font-size:10.03px;line-height:11px;font-weight:bold;color:#fff;white-space:nowrap;transform:scaleX(0.940);transform-origin:0 0;">1</div>
<div style="position:absolute;left:333.00px;top:392.40px;width:55.60px;height:17.50px;background:#008000;"></div>
<div style="position:absolute;left:388.60px;top:392.40px;width:55.60px;height:17.50px;background:#9c3a9c;"></div>
<div style="position:absolute;left:261.68px;top:396px;font-size:10.32px;line-height:11px;-webkit-text-stroke:0.2px currentColor;color:#fff;white-space:nowrap;transform:scaleX(0.972);transform-origin:0 0;">Latrell Mitchell</div>
<div style="position:absolute;left:376.42px;top:396px;font-size:10.03px;line-height:11px;font-weight:bold;color:#fff;white-space:nowrap;transform:scaleX(0.940);transform-origin:0 0;">1</div>
<div style="position:absolute;left:432.02px;top:396px;font-size:10.03px;line-height:11px;font-weight:bold;color:#fff;white-space:nowrap;transform:scaleX(0.940);transform-origin:0 0;">1</div>
<div style="position:absolute;left:333.00px;top:415.40px;width:55.60px;height:17.50px;background:#008000;"></div>
<div style="position:absolute;left:388.60px;top:415.40px;width:55.60px;height:17.50px;background:#9c3a9c;"></div>
<div style="position:absolute;left:259.02px;top:419px;font-size:10.32px;line-height:11px;-webkit-text-stroke:0.2px currentColor;color:#fff;white-space:nowrap;transform:scaleX(0.927);transform-origin:0 0;">Nicholas Hynes</div>
<div style="position:absolute;left:376.42px;top:419px;font-size:10.03px;line-height:11px;font-weight:bold;color:#fff;white-space:nowrap;transform:scaleX(0.940);transform-origin:0 0;">1</div>
<div style="position:absolute;left:432.02px;top:419px;font-size:10.03px;line-height:11px;font-weight:bold;color:#fff;white-space:nowrap;transform:scaleX(0.940);transform-origin:0 0;">1</div>
<div style="position:absolute;left:344.38px;top:439px;font-size:10.03px;line-height:11px;font-weight:bold;color:#fff;white-space:nowrap;transform:scaleX(0.924);transform-origin:0 0;">Kicking Metres</div>
<div style="position:absolute;left:340.60px;top:470.50px;width:138.60px;height:14.70px;background:#008000;"></div>
<div style="position:absolute;left:280.43px;top:472px;font-size:10.32px;line-height:11px;-webkit-text-stroke:0.2px currentColor;color:#fff;white-space:nowrap;transform:scaleX(0.914);transform-origin:0 0;">Lachlan Ilias</div>
<div style="position:absolute;left:456.47px;top:473px;font-size:10.03px;line-height:11px;font-weight:bold;color:#fff;white-space:nowrap;transform:scaleX(0.940);transform-origin:0 0;">298</div>
<div style="position:absolute;left:340.60px;top:490.40px;width:122.10px;height:14.40px;background:#008000;"></div>
<div style="position:absolute;left:266.21px;top:492px;font-size:10.32px;line-height:11px;-webkit-text-stroke:0.2px currentColor;color:#fff;white-space:nowrap;transform:scaleX(0.929);transform-origin:0 0;">Nicholas Hynes</div>
<div style="position:absolute;left:440.01px;top:492px;font-size:10.03px;line-height:11px;font-weight:bold;color:#fff;white-space:nowrap;transform:scaleX(0.940);transform-origin:0 0;">263</div>
<div style="position:absolute;left:340.60px;top:510.00px;width:104.60px;height:14.70px;background:#008000;"></div>
<div style="position:absolute;left:263.11px;top:512px;font-size:10.32px;line-height:11px;-webkit-text-stroke:0.2px currentColor;color:#fff;white-space:nowrap;transform:scaleX(0.939);transform-origin:0 0;">Braydon Trindall</div>
<div style="position:absolute;left:422.44px;top:512px;font-size:10.03px;line-height:11px;font-weight:bold;color:#fff;white-space:nowrap;transform:scaleX(0.940);transform-origin:0 0;">225</div>
<div style="position:absolute;left:340.60px;top:529.50px;width:54.90px;height:14.70px;background:#008000;"></div>
<div style="position:absolute;left:278.01px;top:531px;font-size:10.32px;line-height:11px;-webkit-text-stroke:0.2px currentColor;color:#fff;white-space:nowrap;transform:scaleX(0.931);transform-origin:0 0;">Cody Walker</div>
<div style="position:absolute;left:373.29px;top:532px;font-size:10.03px;line-height:11px;font-weight:bold;color:#fff;white-space:nowrap;transform:scaleX(0.940);transform-origin:0 0;">118</div>
<div style="position:absolute;left:340.60px;top:549.00px;width:17.80px;height:14.80px;background:#008000;"></div>
<div style="position:absolute;left:269.18px;top:551px;font-size:10.32px;line-height:11px;-webkit-text-stroke:0.2px currentColor;color:#fff;white-space:nowrap;transform:scaleX(0.970);transform-origin:0 0;">Latrell Mitchell</div>
<div style="position:absolute;left:251.00px;top:576.00px;width:253.00px;height:1.00px;background:#1c1c1c;"></div>
<div style="position:absolute;left:340.68px;top:579px;font-size:10.03px;line-height:11px;font-weight:bold;color:#fff;white-space:nowrap;transform:scaleX(0.929);transform-origin:0 0;">Line Beeaks (2+)</div>
<div style="position:absolute;left:330.60px;top:643.20px;width:157.10px;height:33.60px;background:#008000;"></div>
<div style="position:absolute;left:262.68px;top:655px;font-size:10.32px;line-height:11px;-webkit-text-stroke:0.2px currentColor;color:#fff;white-space:nowrap;transform:scaleX(0.931);transform-origin:0 0;">Alex Johnston</div>
<div style="position:absolute;left:475.54px;top:655px;font-size:10.03px;line-height:11px;font-weight:bold;color:#fff;white-space:nowrap;transform:scaleX(0.940);transform-origin:0 0;">2</div>
<div style="position:absolute;left:330.60px;top:688.10px;width:157.10px;height:33.60px;background:#008000;"></div>
<div style="position:absolute;left:271.17px;top:699px;font-size:10.32px;line-height:11px;-webkit-text-stroke:0.2px currentColor;color:#fff;white-space:nowrap;transform:scaleX(0.911);transform-origin:0 0;">Sione Katoa</div>
<div style="position:absolute;left:475.54px;top:700px;font-size:10.03px;line-height:11px;font-weight:bold;color:#fff;white-space:nowrap;transform:scaleX(0.940);transform-origin:0 0;">2</div>
<div style="position:absolute;left:500px;top:271px;width:250px;height:20px;overflow:hidden;">
<div style="position:absolute;left:108.08px;top:-6px;font-size:10.03px;line-height:11px;font-weight:bold;color:#fff;white-space:nowrap;transform:scaleX(0.925);transform-origin:0 0;">Errors 2+</div>
</div>
<div style="position:absolute;left:601.40px;top:297.00px;width:133.50px;height:16.75px;background:#fd3535;"></div>
<div style="position:absolute;left:537.10px;top:300px;font-size:9.88px;line-height:11px;-webkit-text-stroke:0.2px currentColor;color:#fff;white-space:nowrap;transform:scaleX(0.933);transform-origin:0 0;">Tyrone Munro</div>
<div style="position:absolute;left:722.42px;top:300px;font-size:10.03px;line-height:11px;font-weight:bold;color:#fff;white-space:nowrap;transform:scaleX(0.940);transform-origin:0 0;">5</div>
<div style="position:absolute;left:601.40px;top:318.30px;width:53.50px;height:16.75px;background:#fd3535;"></div>
<div style="position:absolute;left:537.68px;top:321px;font-size:9.88px;line-height:11px;-webkit-text-stroke:0.2px currentColor;color:#fff;white-space:nowrap;transform:scaleX(0.910);transform-origin:0 0;">Alex Johnston</div>
<div style="position:absolute;left:642.54px;top:321px;font-size:10.03px;line-height:11px;font-weight:bold;color:#fff;white-space:nowrap;transform:scaleX(0.940);transform-origin:0 0;">2</div>
<div style="position:absolute;left:601.40px;top:339.60px;width:53.50px;height:16.75px;background:#fd3535;"></div>
<div style="position:absolute;left:534.84px;top:342px;font-size:9.88px;line-height:11px;-webkit-text-stroke:0.2px currentColor;color:#fff;white-space:nowrap;transform:scaleX(0.907);transform-origin:0 0;">Connor Tracey</div>
<div style="position:absolute;left:642.54px;top:343px;font-size:10.03px;line-height:11px;font-weight:bold;color:#fff;white-space:nowrap;transform:scaleX(0.940);transform-origin:0 0;">2</div>
<div style="position:absolute;left:601.40px;top:360.90px;width:53.50px;height:16.75px;background:#fd3535;"></div>
<div style="position:absolute;left:509.25px;top:364px;font-size:9.88px;line-height:11px;-webkit-text-stroke:0.2px currentColor;color:#fff;white-space:nowrap;transform:scaleX(0.926);transform-origin:0 0;">Keaon Koloamatangi</div>
<div style="position:absolute;left:642.54px;top:364px;font-size:10.03px;line-height:11px;font-weight:bold;color:#fff;white-space:nowrap;transform:scaleX(0.940);transform-origin:0 0;">2</div>
<div style="position:absolute;left:601.40px;top:382.20px;width:53.50px;height:16.75px;background:#fd3535;"></div>
<div style="position:absolute;left:545.18px;top:385px;font-size:9.88px;line-height:11px;-webkit-text-stroke:0.2px currentColor;color:#fff;white-space:nowrap;transform:scaleX(0.887);transform-origin:0 0;">Lachlan Ilias</div>
<div style="position:absolute;left:642.54px;top:385px;font-size:10.03px;line-height:11px;font-weight:bold;color:#fff;white-space:nowrap;transform:scaleX(0.940);transform-origin:0 0;">2</div>
<div style="position:absolute;left:601.40px;top:403.50px;width:53.50px;height:16.75px;background:#fd3535;"></div>
<div style="position:absolute;left:534.13px;top:406px;font-size:9.88px;line-height:11px;-webkit-text-stroke:0.2px currentColor;color:#fff;white-space:nowrap;transform:scaleX(0.951);transform-origin:0 0;">Mawene Hiroti</div>
<div style="position:absolute;left:642.54px;top:407px;font-size:10.03px;line-height:11px;font-weight:bold;color:#fff;white-space:nowrap;transform:scaleX(0.940);transform-origin:0 0;">2</div>
<div style="position:absolute;left:601.40px;top:424.80px;width:53.50px;height:16.75px;background:#fd3535;"></div>
<div style="position:absolute;left:546.10px;top:428px;font-size:9.88px;line-height:11px;-webkit-text-stroke:0.2px currentColor;color:#fff;white-space:nowrap;transform:scaleX(0.910);transform-origin:0 0;">Toby Rudolf</div>
<div style="position:absolute;left:642.54px;top:428px;font-size:10.03px;line-height:11px;font-weight:bold;color:#fff;white-space:nowrap;transform:scaleX(0.940);transform-origin:0 0;">2</div>
<div style="position:absolute;left:601.47px;top:457px;font-size:10.03px;line-height:11px;font-weight:bold;color:#fff;white-space:nowrap;transform:scaleX(0.934);transform-origin:0 0;">Penalties 2+</div>
<div style="position:absolute;left:595.30px;top:489.20px;width:138.60px;height:16.40px;background:#fd3535;"></div>
<div style="position:absolute;left:535.23px;top:491px;font-size:10.32px;line-height:11px;-webkit-text-stroke:0.2px currentColor;color:#fff;white-space:nowrap;transform:scaleX(0.914);transform-origin:0 0;">Lachlan Ilias</div>
<div style="position:absolute;left:725.10px;top:492px;font-size:10.03px;line-height:11px;font-weight:bold;color:#fff;white-space:nowrap;transform:scaleX(0.940);transform-origin:0 0;">3</div>
<div style="position:absolute;left:595.30px;top:510.60px;width:138.60px;height:16.30px;background:#fd3535;"></div>
<div style="position:absolute;left:536.49px;top:513px;font-size:10.32px;line-height:11px;-webkit-text-stroke:0.2px currentColor;color:#fff;white-space:nowrap;transform:scaleX(0.932);transform-origin:0 0;">Toby Rudolf</div>
<div style="position:absolute;left:725.10px;top:514px;font-size:10.03px;line-height:11px;font-weight:bold;color:#fff;white-space:nowrap;transform:scaleX(0.940);transform-origin:0 0;">3</div>
<div style="position:absolute;left:595.30px;top:532.60px;width:94.50px;height:16.00px;background:#fd3535;"></div>
<div style="position:absolute;left:514.81px;top:535px;font-size:10.32px;line-height:11px;-webkit-text-stroke:0.2px currentColor;color:#fff;white-space:nowrap;transform:scaleX(0.937);transform-origin:0 0;">Cameron Murray</div>
<div style="position:absolute;left:677.64px;top:535px;font-size:10.03px;line-height:11px;font-weight:bold;color:#fff;white-space:nowrap;transform:scaleX(0.940);transform-origin:0 0;">2</div>
<div style="position:absolute;left:595.30px;top:554.00px;width:94.50px;height:16.00px;background:#fd3535;"></div>
<div style="position:absolute;left:517.40px;top:556px;font-size:10.32px;line-height:11px;-webkit-text-stroke:0.2px currentColor;color:#fff;white-space:nowrap;transform:scaleX(0.900);transform-origin:0 0;">Thomas Burgess</div>
<div style="position:absolute;left:677.64px;top:557px;font-size:10.03px;line-height:11px;font-weight:bold;color:#fff;white-space:nowrap;transform:scaleX(0.940);transform-origin:0 0;">2</div>
<div style="position:absolute;left:596.39px;top:579px;font-size:10.03px;line-height:11px;font-weight:bold;color:#fff;white-space:nowrap;transform:scaleX(0.902);transform-origin:0 0;">Missed Tackles</div>
<div style="position:absolute;left:593.40px;top:614.10px;width:140.60px;height:22.30px;background:#fd3535;"></div>
<div style="position:absolute;left:515.50px;top:620px;font-size:10.32px;line-height:11px;-webkit-text-stroke:0.2px currentColor;color:#fff;white-space:nowrap;transform:scaleX(0.900);transform-origin:0 0;">Thomas Burgess</div>
<div style="position:absolute;left:723.97px;top:620px;font-size:10.03px;line-height:11px;font-weight:bold;color:#fff;white-space:nowrap;transform:scaleX(0.940);transform-origin:0 0;">7</div>
<div style="position:absolute;left:593.40px;top:643.00px;width:140.60px;height:22.20px;background:#fd3535;"></div>
<div style="position:absolute;left:524.65px;top:649px;font-size:10.32px;line-height:11px;-webkit-text-stroke:0.2px currentColor;color:#fff;white-space:nowrap;transform:scaleX(0.920);transform-origin:0 0;">Wade Graham</div>
<div style="position:absolute;left:723.97px;top:649px;font-size:10.03px;line-height:11px;font-weight:bold;color:#fff;white-space:nowrap;transform:scaleX(0.940);transform-origin:0 0;">7</div>
<div style="position:absolute;left:593.40px;top:672.00px;width:122.20px;height:22.20px;background:#fd3535;"></div>
<div style="position:absolute;left:515.80px;top:678px;font-size:10.32px;line-height:11px;-webkit-text-stroke:0.2px currentColor;color:#fff;white-space:nowrap;transform:scaleX(0.942);transform-origin:0 0;">Braydon Trindall</div>
<div style="position:absolute;left:703.20px;top:678px;font-size:10.03px;line-height:11px;font-weight:bold;color:#fff;white-space:nowrap;transform:scaleX(0.940);transform-origin:0 0;">6</div>
<div style="position:absolute;left:593.40px;top:701.00px;width:122.20px;height:22.10px;background:#fd3535;"></div>
<div style="position:absolute;left:530.61px;top:707px;font-size:10.32px;line-height:11px;-webkit-text-stroke:0.2px currentColor;color:#fff;white-space:nowrap;transform:scaleX(0.936);transform-origin:0 0;">Cody Walker</div>
<div style="position:absolute;left:703.20px;top:707px;font-size:10.03px;line-height:11px;font-weight:bold;color:#fff;white-space:nowrap;transform:scaleX(0.940);transform-origin:0 0;">6</div>
<div style="position:absolute;left:593.40px;top:729.90px;width:122.20px;height:22.10px;background:#fd3535;"></div>
<div style="position:absolute;left:534.29px;top:735px;font-size:10.32px;line-height:11px;-webkit-text-stroke:0.2px currentColor;color:#fff;white-space:nowrap;transform:scaleX(0.938);transform-origin:0 0;">Toby Rudolf</div>
<div style="position:absolute;left:703.20px;top:736px;font-size:10.03px;line-height:11px;font-weight:bold;color:#fff;white-space:nowrap;transform:scaleX(0.940);transform-origin:0 0;">6</div>
<div style="position:absolute;left:754.00px;top:0.00px;width:4.00px;height:271.00px;background:#ffffff;"></div>
<div style="position:absolute;left:753.50px;top:271.00px;width:4.50px;height:177.00px;background:#ffffff;"></div>
</body></html>
